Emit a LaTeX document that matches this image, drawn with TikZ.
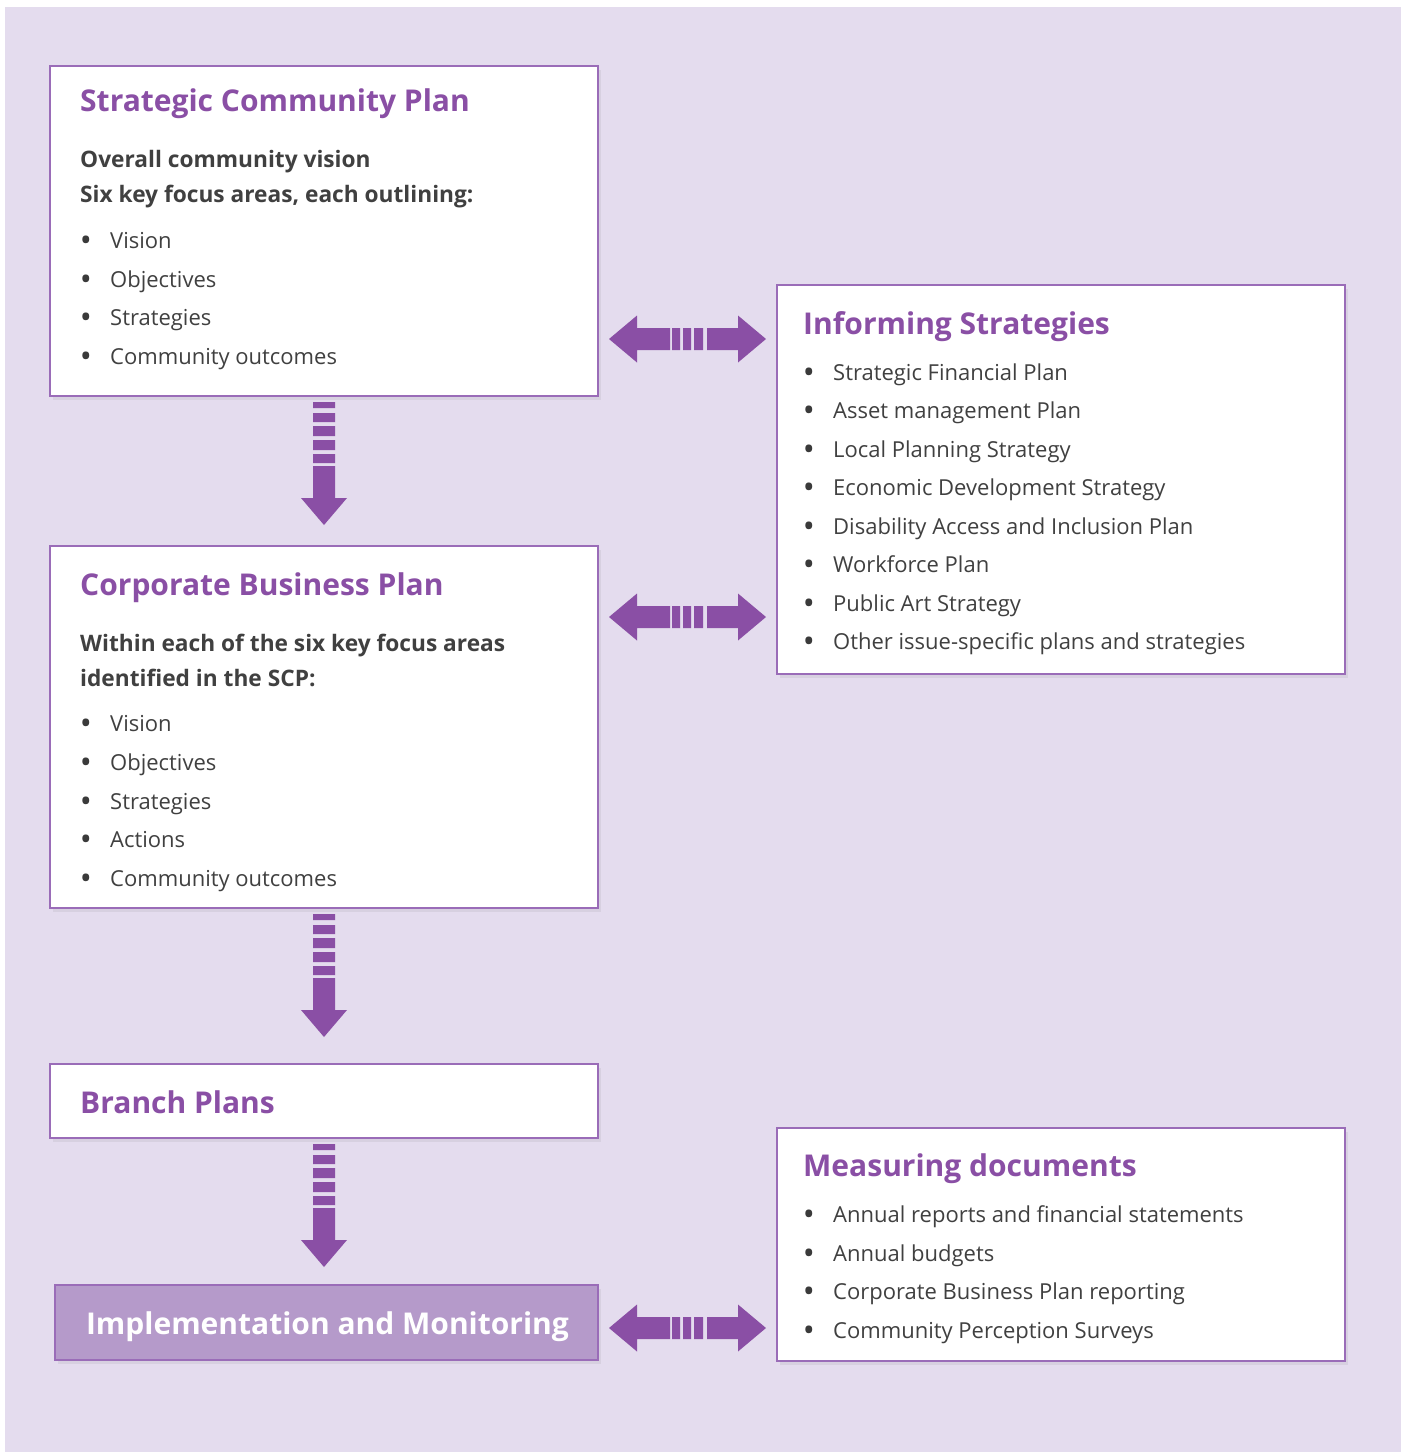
\documentclass[tikz,border=0pt]{standalone}
\usepackage{fontspec}
\setmainfont{Open Sans}
\usetikzlibrary{shadows,calc}
\definecolor{bgl}{HTML}{E4DCEE}
\definecolor{purp}{HTML}{8A4FA5}
\definecolor{bord}{HTML}{9A6CB8}
\definecolor{implf}{HTML}{B59ACA}
\definecolor{txt}{HTML}{404040}
\tikzset{
 box/.style={draw=bord, line width=1.5pt, fill=white, inner sep=0pt, outer sep=0pt,
   drop shadow={opacity=0.12,shadow xshift=3pt,shadow yshift=-4pt}},
 ttl/.style={anchor=base west, inner sep=0pt, text=purp, font=\fontsize{30}{36}\selectfont\bfseries},
 bld/.style={anchor=base west, inner sep=0pt, text=txt, font=\fontsize{22.7}{27}\selectfont\bfseries},
 itm/.style={anchor=base west, inner sep=0pt, text=txt, font=\fontsize{22}{26}\selectfont},
 bul/.style={anchor=base, inner sep=0pt, text=txt!90!black, font=\fontsize{32}{36}\selectfont},
 pics/downarr/.style={code={
   \fill[purp] (-11,0) rectangle (11,6) (-11,11) rectangle (11,20) (-11,24) rectangle (11,34)
     (-11,38) rectangle (11,48) (-11,52) rectangle (11,61);
   \fill[purp] (-11,64) -- (11,64) -- (11,96) -- (23,96) -- (0,123) -- (-23,96) -- (-11,96) -- cycle;
 }},
 pics/dblarr/.style={code={
   \fill[purp] (0,0) -- (28,-23.5) -- (28,-11) -- (61,-11) -- (61,11) -- (28,11) -- (28,23.5) -- cycle;
   \fill[purp] (63,-11) rectangle (71,11) (74,-11) rectangle (82,11) (85,-11) rectangle (94,11);
   \fill[purp] (98,-11) -- (129,-11) -- (129,-23.5) -- (157,0) -- (129,23.5) -- (129,11) -- (98,11) -- cycle;
 }}
}
\begin{document}
\begin{tikzpicture}[x=1pt,y=-1pt]
\useasboundingbox (0,0) rectangle (1405,1452);
\fill[white] (0,0) rectangle (1405,1452);
\fill[bgl] (5,7) rectangle (1401,1452);

% boxes
\node[box, minimum width=548pt, minimum height=330pt] (scp) at (324,231) {};
\node[box, minimum width=548pt, minimum height=362pt] (cbp) at (324,727) {};
\node[box, minimum width=548pt, minimum height=74pt] (bp) at (324,1101) {};
\node[box, fill=implf, draw=bord, minimum width=543pt, minimum height=75pt] (impl) at (326.5,1322.5) {};
\node[box, minimum width=568pt, minimum height=389pt] (inf) at (1061,479.5) {};
\node[box, minimum width=568pt, minimum height=233pt] (meas) at (1061,1244.5) {};

% Strategic Community Plan
\node[ttl] (scpT) at (80,111) {Strategic Community Plan};
\node[bld] (scpB1) at (80,167) {Overall community vision};
\node[bld] (scpB2) at (80,202) {Six key focus areas, each outlining:};
\foreach \t/\y [count=\i] in {Vision/248, Objectives/287, Strategies/325, Community outcomes/364}{
  \node[bul] (scpD\i) at (86,\y+3) {•};
  \node[itm] (scpI\i) at (110,\y) {\t};
}

% Corporate Business Plan
\node[ttl] (cbpT) at (80,595) {Corporate Business Plan};
\node[bld] (cbpB1) at (80,651) {Within each of the six key focus areas};
\node[bld] (cbpB2) at (80,686) {identified in the SCP:};
\foreach \t/\y [count=\i] in {Vision/731, Objectives/770, Strategies/809, Actions/847, Community outcomes/886}{
  \node[bul] (cbpD\i) at (86,\y+3) {•};
  \node[itm] (cbpI\i) at (110,\y) {\t};
}

% Branch Plans
\node[ttl] (bpT) at (80,1113) {Branch Plans};

% Implementation
\node[anchor=base, inner sep=0pt, text=white, font=\fontsize{30}{36}\selectfont\bfseries] (implT) at (327.5,1334) {Implementation and Monitoring};

% Informing Strategies
\node[ttl] (infT) at (803,334) {Informing Strategies};
\foreach \t/\y [count=\i] in {Strategic Financial Plan/380, Asset management Plan/418.5, Local Planning Strategy/457,
  Economic Development Strategy/495.5, Disability Access and Inclusion Plan/534, Workforce Plan/572.5,
  Public Art Strategy/611, Other issue-specific plans and strategies/649.5}{
  \node[bul] (infD\i) at (809,\y+3) {•};
  \node[itm] (infI\i) at (833,\y) {\t};
}

% Measuring documents
\node[ttl] (measT) at (803,1176) {Measuring documents};
\foreach \t/\y [count=\i] in {Annual reports and financial statements/1222, Annual budgets/1261,
  Corporate Business Plan reporting/1299, Community Perception Surveys/1338}{
  \node[bul] (measD\i) at (809,\y+3) {•};
  \node[itm] (measI\i) at (833,\y) {\t};
}

% arrows
\path (scp.south) ++(0,6) pic {downarr};
\path (cbp.south) ++(0,6) pic {downarr};
\path (bp.south) ++(0,6) pic {downarr};
\path (scp.east) ++(11,108) pic {dblarr};
\path (cbp.east) ++(11,-110) pic {dblarr};
\path (impl.east) ++(11,5.5) pic {dblarr};
\end{tikzpicture}
\end{document}
